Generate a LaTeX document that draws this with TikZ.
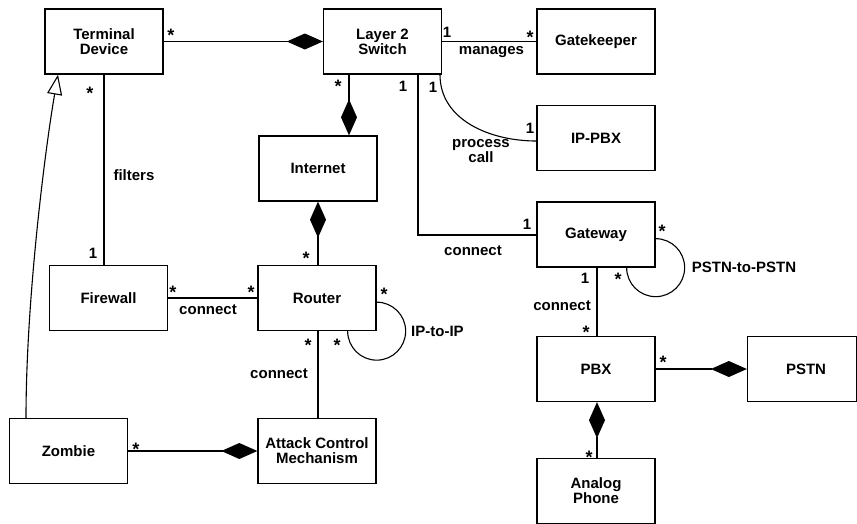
\documentclass[tikz,border=0pt]{standalone}
\usepackage{fontspec}
\setmainfont{Liberation Sans}
\usetikzlibrary{arrows.meta}
\begin{document}
\begin{tikzpicture}[x=1pt,y=1pt,
  box/.style={draw, line width=1.3pt, minimum width=118pt, minimum height=65pt,
    align=center, inner sep=0pt, font=\bfseries\fontsize{15}{15}\selectfont},
  lbl/.style={font=\bfseries\fontsize{15}{15}\selectfont, inner sep=0pt},
  star/.style={inner sep=0pt, font=\bfseries\fontsize{18}{18}\selectfont, yshift=-3.8pt},
  conn/.style={line width=1.1pt},
  comp/.style={conn, -{Diamond[length=36pt,width=16pt]}},
  gen/.style={conn, -{Triangle[open,length=20pt,width=15pt]}}]
\useasboundingbox (0,0) rectangle (857,-523);
\clip (0,0) rectangle (857,-523);

% classes
\node[box] (TD)    at (104,-41.5)   {Terminal\\Device};
\node[box] (L2)    at (382.5,-41.5) {Layer 2\\Switch};
\node[box] (GK)    at (596,-41.5)   {Gatekeeper};
\node[box] (IPPBX) at (596,-138)    {IP-PBX};
\node[box] (INET)  at (318,-168.5)  {Internet};
\node[box] (GW)    at (596,-234.5)  {Gateway};
\node[box] (FW)    at (108.5,-298)  {Firewall};
\node[box] (RT)    at (317,-298)    {Router};
\node[box] (ZB)    at (68.5,-451)   {Zombie};
\node[box] (ACM)   at (317,-451)    {Attack Control\\Mechanism};
\node[box] (PBX)   at (596,-369)    {PBX};
\node[box, minimum width=109pt] (PSTN) at (802,-369) {\hspace*{8pt}PSTN};
\node[box] (AP)    at (596,-491)    {Analog\\Phone};

% connectors
\draw[comp] (TD.east) -- (L2.west);
\draw[conn] (L2.east) -- (GK.west);
\draw[comp] ([xshift=-33.5pt]L2.south) -- ([xshift=-33.5pt]L2.south |- INET.north);
\draw[conn] ([xshift=35.5pt]L2.south) |- ([yshift=-0.5pt]GW.west);
\draw[conn] ([xshift=57.5pt]L2.south) to[out=-90,in=180] ([yshift=-3pt]IPPBX.west);
\draw[comp] (INET.south |- RT.north) -- (INET.south);
\draw[conn] (FW.east) -- (RT.west);
\draw[conn] (TD.south) -- (TD.south |- FW.north);
\draw[conn] ([xshift=1pt]RT.south) -- ([xshift=1pt]RT.south |- ACM.north);
\draw[conn] ([yshift=29pt]RT.south east) arc[start angle=90, end angle=-180, radius=29pt];
\draw[conn] ([yshift=29pt]GW.south east) arc[start angle=90, end angle=-180, radius=29pt];
\draw[conn] ([xshift=1pt]GW.south) -- ([xshift=1pt]GW.south |- PBX.north);
\draw[comp] (PBX.east) -- (PSTN.west);
\draw[comp] ([xshift=1pt]PBX.south |- AP.north) -- ([xshift=1pt]PBX.south);
\draw[comp] (ZB.east) -- (ACM.west);
\draw[gen] ([xshift=-42.5pt]ZB.north) .. controls (26,-300) and (45,-150) .. ([xshift=-46pt]TD.south);

% multiplicities and association labels
\node[star] (m1) at (171,-32) {*};
\node[lbl]  (m2) at (447,-32) {1};
\node[star] (m3) at (530,-34) {*};
\node[lbl]  (a1) at (491.5,-52) {manages};
\node[star] (m4) at (338,-83) {*};
\node[lbl]  (m5) at (403,-86) {1};
\node[lbl]  (m6) at (433,-87) {1};
\node[lbl]  (m7) at (530,-128) {1};
\node[lbl, anchor=base] (a2) at (481,-147) {process};
\node[lbl, anchor=base] (a3) at (481,-162) {call};
\node[lbl]  (a4) at (473,-251) {connect};
\node[lbl]  (m8) at (527,-224) {1};
\node[star] (m9) at (306,-255) {*};
\node[star] (m10) at (173,-289) {*};
\node[star] (m11) at (251,-289) {*};
\node[lbl]  (a5) at (208,-310) {connect};
\node[star] (m12) at (90,-90) {*};
\node[lbl]  (m13) at (93,-253) {1};
\node[lbl]  (a6) at (134,-175) {filters};
\node[star] (m14) at (308,-342) {*};
\node[lbl]  (a7) at (279,-374) {connect};
\node[star] (m15) at (384,-291) {*};
\node[star] (m16) at (337,-342) {*};
\node[lbl, anchor=west] (a8) at (411,-331) {IP-to-IP};
\node[star] (m17) at (662,-228) {*};
\node[star] (m18) at (618,-276) {*};
\node[lbl]  (a9) at (744,-267) {PSTN-to-PSTN};
\node[lbl]  (m19) at (585,-278) {1};
\node[lbl]  (a10) at (562,-306) {connect};
\node[star] (m20) at (586,-329) {*};
\node[star] (m21) at (663,-359) {*};
\node[star] (m22) at (589,-453) {*};
\node[star] (m23) at (136,-445) {*};
\end{tikzpicture}
\end{document}
